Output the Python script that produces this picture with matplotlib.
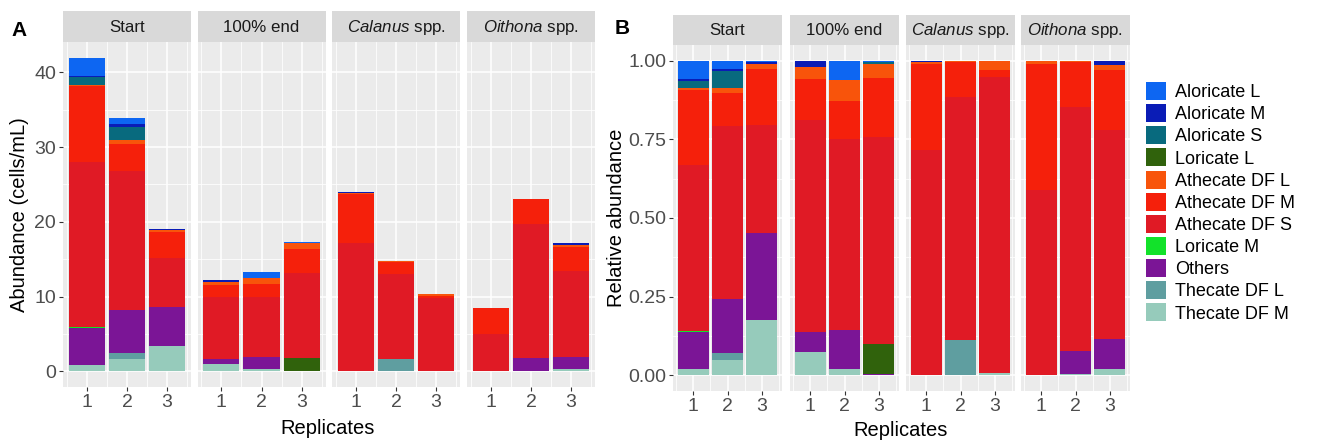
import numpy as np
import matplotlib
matplotlib.use("Agg")
import matplotlib.pyplot as plt
from matplotlib.patches import Patch

plt.rcParams['font.family'] = ['Liberation Sans', 'DejaVu Sans']
plt.rcParams['mathtext.fontset'] = 'custom'
plt.rcParams['mathtext.rm'] = 'Liberation Sans'
plt.rcParams['mathtext.it'] = 'Liberation Sans:italic'

# ---------------- data ----------------
facets = ["Start", "100% end", r"$\mathit{Calanus}$ spp.", r"$\mathit{Oithona}$ spp."]
replicates = [1, 2, 3]

# legend order (top of legend = top of stack)
legend_order = ["Aloricate L", "Aloricate M", "Aloricate S", "Loricate L",
                "Athecate DF L", "Athecate DF M", "Athecate DF S", "Loricate M",
                "Others", "Thecate DF L", "Thecate DF M"]
# stacking order, bottom to top
stack_order = ["Thecate DF M", "Thecate DF L", "Others", "Loricate L", "Loricate M",
               "Athecate DF S", "Athecate DF M", "Athecate DF L",
               "Aloricate S", "Aloricate M", "Aloricate L"]

colors = {
    "Aloricate L": "#0D66F2",
    "Aloricate M": "#0A1CB6",
    "Aloricate S": "#086A7E",
    "Loricate L": "#30620C",
    "Athecate DF L": "#F8540B",
    "Athecate DF M": "#F5200B",
    "Athecate DF S": "#E01A25",
    "Loricate M": "#12E22A",
    "Others": "#7B1596",
    "Thecate DF L": "#5F9EA0",
    "Thecate DF M": "#96CBBB",
}

# abundances (cells/mL); 12 values: Start r1-3, 100% end r1-3, Calanus r1-3, Oithona r1-3
aloricate_l   = [2.40, 0.84, 0.05,  0.00, 0.80, 0.07,  0.00, 0.00, 0.00,  0.00, 0.00, 0.00]
aloricate_m   = [0.25, 0.30, 0.15,  0.26, 0.00, 0.00,  0.10, 0.00, 0.00,  0.00, 0.00, 0.24]
aloricate_s   = [0.95, 1.78, 0.00,  0.00, 0.00, 0.10,  0.00, 0.00, 0.00,  0.00, 0.00, 0.00]
loricate_l    = [0.00, 0.00, 0.00,  0.00, 0.00, 1.64,  0.00, 0.00, 0.00,  0.00, 0.00, 0.00]
athecate_df_l = [0.25, 0.58, 0.30,  0.46, 0.90, 0.80,  0.14, 0.07, 0.30,  0.08, 0.06, 0.29]
athecate_df_m = [10.10, 3.56, 3.40, 1.60, 1.64, 3.20,  6.60, 1.63, 0.24,  3.42, 3.36, 3.27]
athecate_df_s = [22.10, 18.66, 6.58, 8.20, 8.10, 11.40, 17.16, 11.40, 9.77, 5.00, 17.90, 11.44]
loricate_m    = [0.12, 0.00, 0.00,  0.00, 0.00, 0.00,  0.00, 0.00, 0.00,  0.00, 0.00, 0.00]
others        = [4.90, 5.74, 5.24,  0.78, 1.64, 0.09,  0.00, 0.00, 0.00,  0.00, 1.68, 1.63]
thecate_df_l  = [0.00, 0.80, 0.00,  0.00, 0.00, 0.00,  0.00, 1.65, 0.00,  0.00, 0.00, 0.00]
thecate_df_m  = [0.90, 1.64, 3.38,  0.92, 0.26, 0.00,  0.00, 0.00, 0.09,  0.00, 0.10, 0.33]

values = {
    "Aloricate L": aloricate_l, "Aloricate M": aloricate_m, "Aloricate S": aloricate_s,
    "Loricate L": loricate_l, "Athecate DF L": athecate_df_l, "Athecate DF M": athecate_df_m,
    "Athecate DF S": athecate_df_s, "Loricate M": loricate_m, "Others": others,
    "Thecate DF L": thecate_df_l, "Thecate DF M": thecate_df_m,
}

abund = {k: np.array(v, dtype=float) for k, v in values.items()}
totals = sum(abund.values())
rel = {k: v / totals for k, v in abund.items()}

# ---------------- layout ----------------
W, H = 1324, 442
fig = plt.figure(figsize=(W / 100, H / 100), dpi=100)


def rect(x0, y0, x1, y1):
    return [x0 / W, 1 - y1 / H, (x1 - x0) / W, (y1 - y0) / H]


TICK_COLOR = "#333333"
LABEL_COLOR = "#4D4D4D"


def draw_panel(data, x0s, width, ytop, ybot, strip_top, ylim, yticks, yminor, ylabels):
    axes = []
    for fi, x0 in enumerate(x0s):
        ax = fig.add_axes(rect(x0, ytop, x0 + width, ybot))
        ax.set_facecolor("#EBEBEB")
        for s in ax.spines.values():
            s.set_visible(False)
        bottom = np.zeros(3)
        for cat in stack_order:
            vals = data[cat][fi * 3:(fi + 1) * 3]
            ax.bar(replicates, vals, width=0.9, bottom=bottom, color=colors[cat],
                   linewidth=0, zorder=3)
            bottom = bottom + vals
        ax.set_xlim(0.405, 3.595)
        ax.set_ylim(*ylim)
        ax.set_xticks(replicates)
        ax.set_xticklabels([str(r) for r in replicates])
        ax.set_xticks([0.5, 1.5, 2.5, 3.5], minor=True)
        ax.set_yticks(yticks)
        ax.set_yticks(yminor, minor=True)
        ax.grid(which="major", color="white", linewidth=1.1, zorder=0)
        ax.grid(which="minor", color="white", linewidth=0.55, zorder=0)
        ax.set_axisbelow(True)
        ax.tick_params(which="major", length=3, width=0.8, color=TICK_COLOR,
                       labelsize=14, labelcolor=LABEL_COLOR, pad=2)
        ax.tick_params(which="minor", length=0)
        if fi == 0:
            ax.set_yticklabels(ylabels)
        else:
            ax.set_yticklabels([])
            ax.tick_params(axis="y", which="both", length=0)
        # strip
        sax = fig.add_axes(rect(x0, strip_top, x0 + width, ytop))
        sax.set_facecolor("#D9D9D9")
        sax.set_xticks([])
        sax.set_yticks([])
        for s in sax.spines.values():
            s.set_visible(False)
        sax.text(0.5, 0.47, facets[fi], ha="center", va="center", fontsize=12.2,
                 color="#1A1A1A", transform=sax.transAxes)
        axes.append(ax)
    return axes


# Panel A: absolute abundance
maxA = totals.max()
draw_panel(abund, [63, 197.5, 332, 467], 128, 42, 387, 11,
           (-0.05 * maxA, 1.05 * maxA), [0, 10, 20, 30, 40], [5, 15, 25, 35],
           ["0", "10", "20", "30", "40"])

# Panel B: relative abundance
draw_panel(rel, [673, 790, 906, 1021], 109, 45, 391, 15,
           (-0.05, 1.05), [0, 0.25, 0.5, 0.75, 1.0], [0.125, 0.375, 0.625, 0.875],
           ["0.00", "0.25", "0.50", "0.75", "1.00"])

# axis titles and panel letters
fig.text(20 / W, 1 - 215 / H, "Abundance (cells/mL)", rotation=90, ha="center",
         va="center", fontsize=14.5, color="black")
fig.text(616 / W, 1 - 218 / H, "Relative abundance", rotation=90, ha="center",
         va="center", fontsize=14.5, color="black")
fig.text(328 / W, 1 - 429 / H, "Replicates", ha="center", va="center",
         fontsize=14.5, color="black")
fig.text(901 / W, 1 - 431 / H, "Replicates", ha="center", va="center",
         fontsize=14.5, color="black")
fig.text(19 / W, 1 - 30 / H, "A", ha="center", va="center", fontsize=15,
         fontweight="bold")
fig.text(622 / W, 1 - 29 / H, "B", ha="center", va="center", fontsize=15,
         fontweight="bold")

# legend
handles = [Patch(facecolor=colors[c], edgecolor="none", label=c) for c in legend_order]
fig.legend(handles=handles, loc="upper left", bbox_to_anchor=(1146 / W, 1 - 82 / H),
           frameon=False, fontsize=13, handlelength=1.1, handleheight=1.15,
           labelspacing=0.17, handletextpad=0.5, borderpad=0, borderaxespad=0)

fig.savefig("out.png", dpi=100)
